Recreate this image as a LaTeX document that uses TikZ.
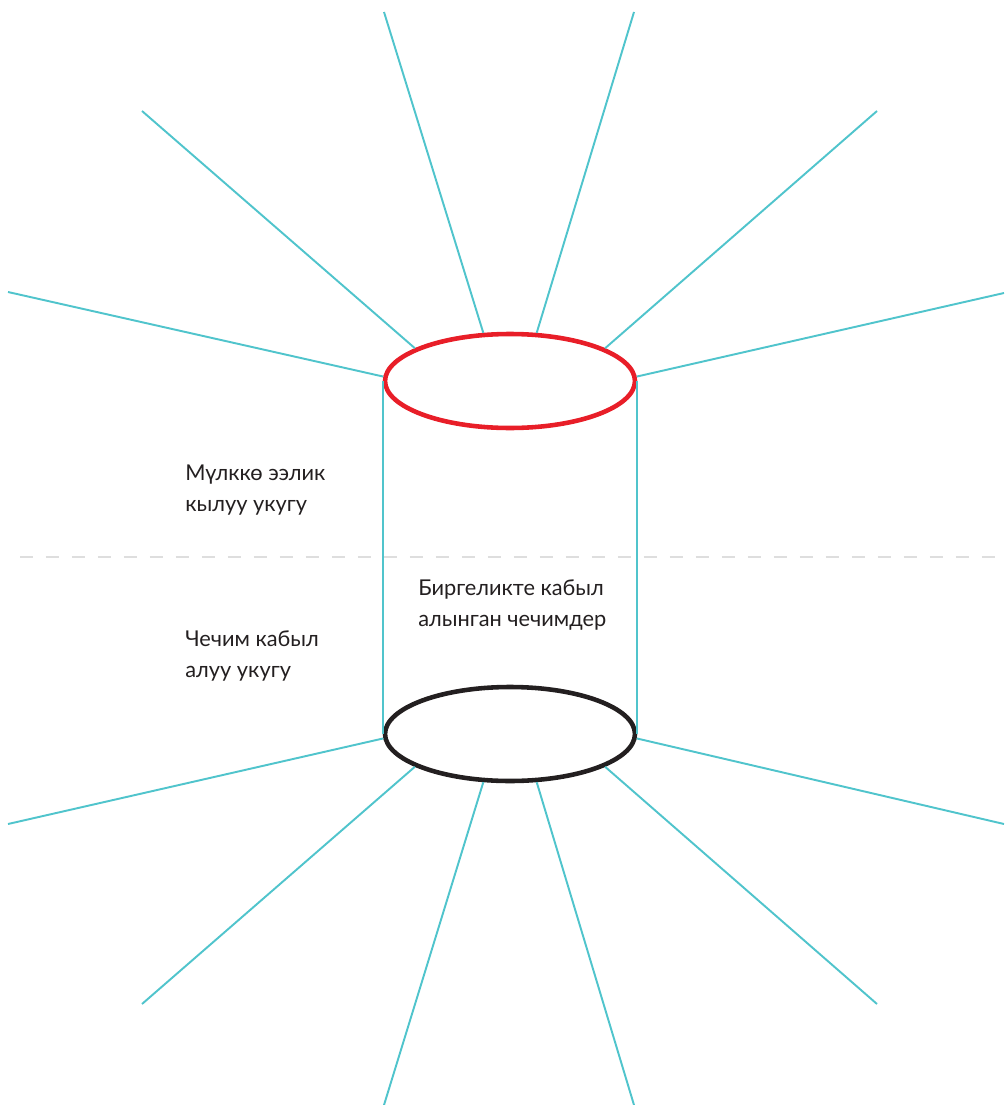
\documentclass[tikz,border=0pt]{standalone}
\usepackage{fontspec}
\setmainfont{Lato}
\usepackage{tikz}
\usetikzlibrary{shapes.geometric}

\definecolor{raycyan}{RGB}{80,196,204}
\definecolor{ringred}{RGB}{232,30,40}
\definecolor{ringblack}{RGB}{35,31,32}
\definecolor{splitgray}{RGB}{222,222,222}

\begin{document}
\begin{tikzpicture}[
  x=0.02cm, y=-0.02cm,
  ring/.style={draw, ellipse, line width=2.6pt, minimum width=5cm, minimum height=1.88cm, inner sep=0pt},
  ray/.style={draw=raycyan, line width=1.1pt},
  label/.style={align=left, anchor=base west, inner sep=0pt, font=\fontsize{12.4}{17.6}\selectfont, text=ringblack}
]
\useasboundingbox (0,0) rectangle (1004,1105);

% divider
\coordinate (splitL) at (20,557);
\coordinate (splitR) at (1004,557);
\draw[splitgray, line width=1.4pt, dash pattern=on 0.26cm off 0.26cm] (splitL) -- (splitR);

% the two rings
\node[ring, draw=ringred] (top) at (510,381) {};
\node[ring, draw=ringblack] (bottom) at (510,734) {};

% cylinder walls
\draw[ray] (top.west) -- (bottom.west);
\draw[ray] (top.east) -- (bottom.east);

% outer ends of the rays
\coordinate (t1) at (384,12);
\coordinate (t2) at (634,12);
\coordinate (t3) at (142,111);
\coordinate (t4) at (877,111);
\coordinate (t5) at (8,292);
\coordinate (t6) at (1004,293);
\coordinate (b1) at (384,1105);
\coordinate (b2) at (634,1105);
\coordinate (b3) at (142,1004);
\coordinate (b4) at (877,1004);
\coordinate (b5) at (8,824);
\coordinate (b6) at (1004,824);

\draw[ray] (t1) -- (top.119);
\draw[ray] (t2) -- (top.61);
\draw[ray] (t3) -- (top.161);
\draw[ray] (t4) -- (top.19);
\draw[ray] (t5) -- (top.178);
\draw[ray] (t6) -- (top.2);
\draw[ray] (b1) -- (bottom.241);
\draw[ray] (b2) -- (bottom.299);
\draw[ray] (b3) -- (bottom.199);
\draw[ray] (b4) -- (bottom.341);
\draw[ray] (b5) -- (bottom.182);
\draw[ray] (b6) -- (bottom.358);

% labels (base = last line)
\node[label] (own) at (185,511) {Мүлккө ээлик\\кылуу укугу};
\node[label] (joint) at (418,626) {Биргеликте кабыл\\алынган чечимдер};
\node[label] (decide) at (185,677) {Чечим кабыл\\алуу укугу};
\end{tikzpicture}
\end{document}
